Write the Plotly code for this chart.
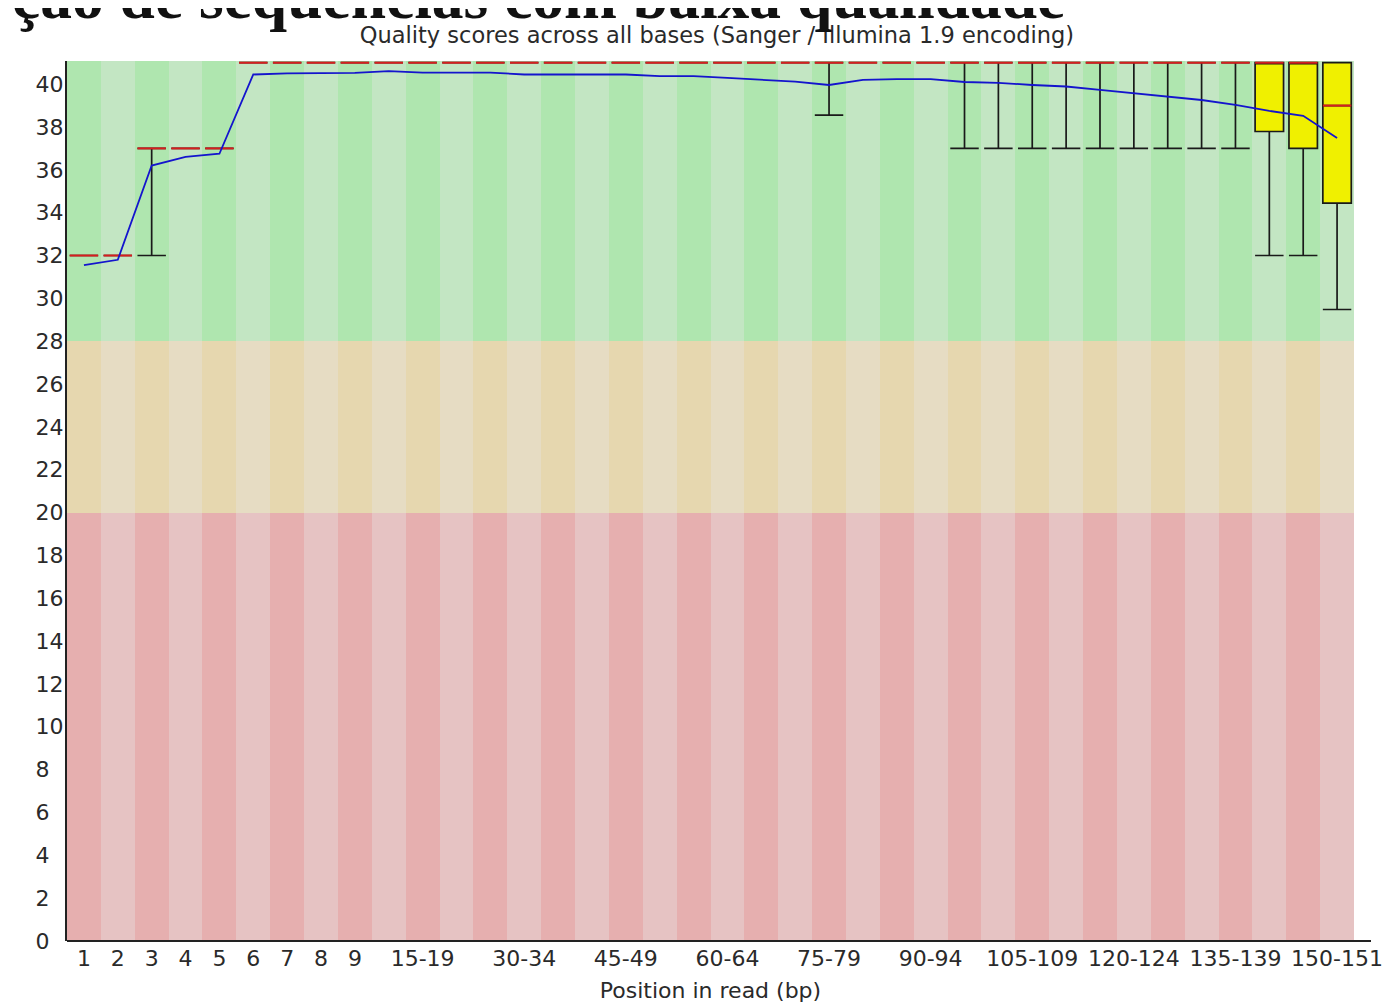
import plotly.graph_objects as go

# ---------------- data ----------------
positions = ["1", "2", "3", "4", "5", "6", "7", "8", "9",
             "10-14", "15-19", "20-24", "25-29", "30-34", "35-39", "40-44",
             "45-49", "50-54", "55-59", "60-64", "65-69", "70-74", "75-79",
             "80-84", "85-89", "90-94", "95-99", "100-104", "105-109",
             "110-114", "115-119", "120-124", "125-129", "130-134",
             "135-139", "140-144", "145-149", "150-151"]

mean_q = [31.55, 31.8, 36.2, 36.6, 36.75, 40.45, 40.5, 40.5, 40.53,
          40.61, 40.54, 40.54, 40.54, 40.45, 40.45, 40.45, 40.45, 40.37,
          40.37, 40.29, 40.21, 40.12, 39.96, 40.2, 40.23, 40.23, 40.1,
          40.06, 39.96, 39.89, 39.73, 39.58, 39.42, 39.26, 39.03, 38.75,
          38.52, 37.48]

median_q = [32, 32, 37, 37, 37] + [41] * 32 + [39]

q1 = [32, 32, 37, 37, 37] + [41] * 30 + [37.79, 37.0, 34.45]

q3 = [32, 32, 37, 37, 37] + [41] * 33

p10 = ([32, 32, 32, 37, 37] + [41] * 17 + [38.55] + [41, 41, 41]
       + [37] * 9 + [32, 32, 29.48])

p90 = [32, 32, 37, 37, 37] + [41] * 33

y_ticks = list(range(0, 41, 2))
x_tick_idx = list(range(0, 9)) + list(range(10, 38, 3))

# zones (quality thresholds); top of the chart sits a hair above 41
y_top = 41.08
zone_edges = [0, 20, 28, y_top]
zone_light = ["rgb(230,195,195)", "rgb(230,220,195)", "rgb(195,230,195)"]
zone_dark = ["rgb(230,175,175)", "rgb(230,215,175)", "rgb(175,230,175)"]

# ---------------- figure ----------------
n = len(positions)
xs = list(range(n))
fig = go.Figure()

for z in range(3):
    cols = [zone_dark[z] if i % 2 == 0 else zone_light[z] for i in xs]
    fig.add_trace(go.Bar(
        x=xs, y=[zone_edges[z + 1] - zone_edges[z]] * n,
        base=[zone_edges[z]] * n, width=1.0,
        marker=dict(color=cols, line=dict(width=0)),
        hoverinfo="skip", showlegend=False))

box_w = 0.84
fig.add_trace(go.Box(
    x=xs, q1=q1, median=median_q, q3=q3,
    lowerfence=p10, upperfence=p90,
    width=box_w, whiskerwidth=1.0,
    fillcolor="rgb(240,240,0)",
    line=dict(color="#1a1a1a", width=1.7),
    boxpoints=False, hoverinfo="skip", showlegend=False))

# red median marks
mx, my = [], []
for i, m in zip(xs, median_q):
    mx += [i - box_w / 2, i + box_w / 2, None]
    my += [m, m, None]
fig.add_trace(go.Scatter(x=mx, y=my, mode="lines",
                         line=dict(color="rgb(215,30,30)", width=2),
                         hoverinfo="skip", showlegend=False))

# mean line
fig.add_trace(go.Scatter(x=xs, y=mean_q, mode="lines",
                         line=dict(color="rgb(20,20,205)", width=1.8),
                         hoverinfo="skip", showlegend=False))

FS = "\u2007"
TXT = "#2a2a2a"
# the page body adds an 8px offset, so margins are reduced by 8 at left/top
fig.update_layout(
    width=1391, height=1003,
    margin=dict(l=59, r=45, t=53, b=70, autoexpand=False),
    paper_bgcolor="white", plot_bgcolor="white",
    barmode="overlay", bargap=0,
    font=dict(family="DejaVu Sans", size=22, color=TXT),
    title=dict(text="Quality scores across all bases (Sanger / Illumina 1.9 encoding)",
               x=0.505, xref="paper", xanchor="center",
               y=1 - 27 / 1003, yref="container", yanchor="middle",
               font=dict(family="DejaVu Sans", size=22.5, color=TXT)),
    xaxis=dict(range=[-0.5, n - 0.5], tickmode="array",
               tickvals=x_tick_idx,
               ticktext=[positions[i] for i in x_tick_idx],
               showgrid=False, zeroline=False, showline=False,
               ticks="", ticklabelstandoff=2,
               title=dict(text="Position in read (bp)", standoff=12,
                          font=dict(size=22))),
    yaxis=dict(range=[0, y_top], tickmode="array", tickvals=y_ticks,
               ticktext=[(str(v) + FS) if v < 10 else str(v) for v in y_ticks],
               showgrid=False, zeroline=False, showline=True,
               linecolor="#222222", linewidth=2, ticks="",
               ticklabelstandoff=-3),
    shapes=[dict(type="line", xref="paper", yref="paper",
                 x0=0, x1=(1371 - 67) / 1287, y0=0, y1=0,
                 line=dict(color="#222222", width=2))],
    annotations=[dict(text="<b>ção de sequências com baixa qualidade</b>",
                      xref="paper", yref="paper",
                      x=(10 - 67) / 1287, y=(941 - 34) / 880,
                      xanchor="left", yanchor="bottom", showarrow=False,
                      font=dict(family="Liberation Serif", size=63.5,
                                color="#111111"))],
)

fig.write_html("out.html")
